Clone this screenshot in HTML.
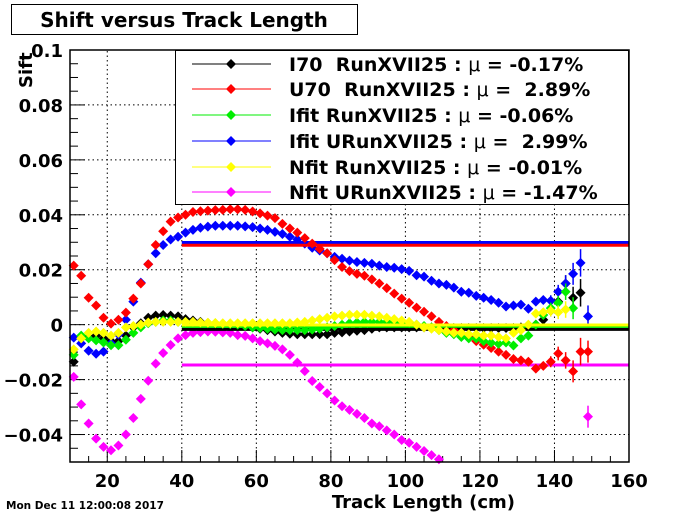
<!DOCTYPE html>
<html><head><meta charset="utf-8"><style>
body{margin:0;background:#fff;}
svg{display:block;font-family:"DejaVu Sans","Liberation Sans",sans-serif;}
</style></head><body>
<svg id="chart" width="700" height="514" viewBox="0 0 700 514" xmlns="http://www.w3.org/2000/svg">
<rect width="700" height="514" fill="#fff"/>
<g>
<rect x="11.5" y="4.5" width="346" height="30" fill="#fff" stroke="#000"/>
<text x="184" y="27" text-anchor="middle" font-weight="bold" font-size="20">Shift versus Track Length</text>
</g>
<g id="grid"></g>
<g id="axes"></g>
<g id="series"></g>
<rect x="70" y="50" width="559" height="412" fill="none" stroke="#000" stroke-width="1.5"/>
<g id="legend">
<rect x="175.5" y="50.5" width="453" height="154" fill="#fff" stroke="#000"/>
</g>
<text transform="translate(32,88) rotate(-90)" font-weight="bold" font-size="18">Sift</text>
<text x="515" y="508" text-anchor="end" font-weight="bold" font-size="18">Track Length (cm)</text>
<text x="6" y="509" font-weight="bold" font-size="10.5">Mon Dec 11 12:00:08 2017</text>
</svg>
<script>
const xs = [];
for (let v = 11; v <= 149; v += 2) xs.push(v);
const seriesNames = ["I70  RunXVII25 : ","U70  RunXVII25 : ","Ifit RunXVII25 : ","Ifit URunXVII25 : ","Nfit RunXVII25 : ","Nfit URunXVII25 : "];
const seriesMeans = ["-0.17%"," 2.89%","-0.06%"," 2.99%","-0.01%","-1.47%"];
const fitLevels = [-0.0017, 0.0289, -0.0006, 0.0299, -0.0001, -0.0147];
const colors = ["#000","#ff0000","#00ee00","#0000ff","#ffff00","#ff00ff"];
const black = [-0.0135,-0.005,-0.0045,-0.004,-0.005,-0.006,-0.006,-0.004,-0.001,0.0005,0.0025,0.0033,0.0035,0.0033,0.003,0.002,0.0015,0.001,0.0006,0.0003,0.0003,0.0003,0.0003,-0.0005,-0.001,-0.0015,-0.002,-0.0025,-0.003,-0.0033,-0.0035,-0.0035,-0.0035,-0.0035,-0.0035,-0.003,-0.0028,-0.0025,-0.0022,-0.002,-0.0015,-0.001,-0.001,-0.001,-0.001,-0.001,-0.001,-0.001,-0.001,-0.001,-0.001,-0.0012,-0.0012,-0.0012,-0.0012,-0.0012,-0.0012,-0.0012,-0.0012,-0.0012,-0.001,-0.0005,0.0,0.0018,0.005,0.0084,0.015,0.0098,0.0116];
const red = [0.0215,0.0178,0.0098,0.007,0.0025,0.0004,0.0018,0.0044,0.0095,0.015,0.022,0.029,0.034,0.0375,0.039,0.040,0.041,0.0413,0.0415,0.0417,0.0418,0.042,0.042,0.0418,0.0412,0.0405,0.0397,0.0388,0.0367,0.035,0.0335,0.0315,0.0295,0.0276,0.026,0.0235,0.021,0.0195,0.0185,0.0178,0.0165,0.015,0.0133,0.0113,0.0095,0.008,0.0062,0.0047,0.003,0.001,-0.0005,-0.002,-0.003,-0.0045,-0.006,-0.0073,-0.0085,-0.0098,-0.011,-0.0125,-0.013,-0.0135,-0.016,-0.015,-0.0135,-0.0105,-0.013,-0.017,-0.0098,-0.0098,-0.0087];
const green = [-0.011,-0.004,-0.005,-0.0057,-0.0065,-0.0075,-0.0075,-0.0055,-0.003,-0.001,0.0005,0.001,0.0015,0.0015,0.001,0.001,0.0008,0.0007,0.0005,0.0005,0.0003,0.0002,0.0,-0.0005,-0.001,-0.0012,-0.0015,-0.0018,-0.002,-0.002,-0.002,-0.002,-0.0018,-0.0015,-0.001,-0.0005,0.0,0.0005,0.0008,0.001,0.001,0.001,0.001,0.001,0.0008,0.0005,0.0,-0.0005,-0.001,-0.002,-0.003,-0.0035,-0.0045,-0.005,-0.005,-0.006,-0.0066,-0.007,-0.0065,-0.0076,-0.005,-0.004,0.0,0.0035,0.006,0.008,0.012,0.006];
const blue = [-0.0047,-0.0068,-0.0095,-0.0106,-0.0098,-0.0068,-0.0036,0.0018,0.0084,0.0153,0.022,0.026,0.029,0.031,0.032,0.0335,0.0345,0.0353,0.0357,0.036,0.036,0.036,0.036,0.0358,0.0355,0.035,0.0345,0.0338,0.033,0.032,0.031,0.0295,0.028,0.027,0.026,0.0247,0.024,0.0233,0.0228,0.0225,0.0222,0.0215,0.021,0.0207,0.0202,0.0196,0.018,0.0175,0.016,0.015,0.0145,0.0135,0.012,0.0116,0.0105,0.0098,0.009,0.008,0.0066,0.007,0.0073,0.0058,0.0084,0.009,0.0087,0.012,0.015,0.0185,0.0225,0.003];
const yellow = [-0.009,-0.005,-0.003,-0.0025,-0.003,-0.004,-0.003,-0.001,-0.0005,0.0,0.0008,0.001,0.001,0.001,0.001,0.001,0.001,0.0008,0.0007,0.0006,0.0005,0.0005,0.0005,0.0005,0.0005,0.0005,0.0005,0.0005,0.0005,0.0005,0.0008,0.001,0.0015,0.002,0.0025,0.003,0.0033,0.0036,0.0036,0.0036,0.0033,0.003,0.0025,0.002,0.0015,0.001,0.0,-0.001,-0.0015,-0.002,-0.0025,-0.003,-0.003,-0.0035,-0.0035,-0.004,-0.004,-0.0045,-0.005,-0.003,-0.002,0.0,0.004,0.0045,0.005,0.0045,0.0055];
const magenta = [-0.019,-0.029,-0.036,-0.0415,-0.0445,-0.0457,-0.044,-0.040,-0.034,-0.027,-0.0204,-0.0142,-0.0103,-0.0074,-0.005,-0.0038,-0.003,-0.0027,-0.0025,-0.0026,-0.0028,-0.003,-0.0038,-0.0041,-0.005,-0.006,-0.0068,-0.0077,-0.009,-0.011,-0.0138,-0.0169,-0.0205,-0.0227,-0.025,-0.0276,-0.0297,-0.031,-0.0325,-0.034,-0.036,-0.037,-0.0385,-0.040,-0.042,-0.043,-0.0445,-0.046,-0.0475,-0.049,null,null,null,null,null,null,null,null,null,null,null,null,null,null,null,null,null,null,null,-0.0335];
const errs = [0.001,0.0008,0.0006,0.0005,0.0005,0.0005,0.0005,0.0005,0.0005,0.0005,0.0005,0.0005,0.0005,0.0005,0.0005,0.0005,0.0005,0.0005,0.0005,0.0005,0.0005,0.0005,0.0005,0.0005,0.0005,0.0005,0.0005,0.0005,0.0005,0.0005,0.0005,0.0005,0.0005,0.0005,0.0005,0.0005,0.0005,0.0005,0.0005,0.0005,0.0005,0.0005,0.0005,0.0005,0.0005,0.0005,0.0005,0.0005,0.0005,0.0005,0.0005,0.0005,0.0005,0.0005,0.0005,0.0005,0.0005,0.0008,0.0008,0.001,0.001,0.001,0.0012,0.0015,0.002,0.0025,0.003,0.004,0.005,0.004];
const xTicks = [20,40,60,80,100,120,140,160];
const yTicks = [-0.04,-0.02,0,0.02,0.04,0.06,0.08,0.1];
const yTickLabels = ["\u22120.04","\u22120.02","0","0.02","0.04","0.06","0.08","0.1"];

const NS="http://www.w3.org/2000/svg";
const X0=70,X1=629,Y0=462,Y1=50,XMIN=10,XMAX=160,YMIN=-0.05,YMAX=0.1;
const sx=v=>X0+(v-XMIN)/(XMAX-XMIN)*(X1-X0);
const sy=v=>Y0-(v-YMIN)/(YMAX-YMIN)*(Y0-Y1);
function mk(tag,attrs,parent){const e=document.createElementNS(NS,tag);for(const k in attrs)e.setAttribute(k,attrs[k]);parent.appendChild(e);return e;}
const grid=document.getElementById('grid'),axes=document.getElementById('axes'),ser=document.getElementById('series'),leg=document.getElementById('legend');
xTicks.forEach(t=>{
  if(t<XMAX){const g=mk('line',{x1:sx(t),x2:sx(t),y1:Y0,y2:Y1,stroke:'#000','stroke-dasharray':'1.5,3','stroke-width':1},grid);
  
  }
  const tl=mk('text',{x:sx(t),y:487,'text-anchor':'middle','font-weight':'bold','font-size':18},axes);
  tl.textContent=t;
  
  
});
for(let t=10;t<=160;t+=5){mk('line',{x1:sx(t),x2:sx(t),y1:Y0,y2:Y0-(t%20===0?12:6),stroke:'#000'},axes);}
yTicks.forEach((t,i)=>{
  if(t<YMAX){const g=mk('line',{x1:X0,x2:X1,y1:sy(t),y2:sy(t),stroke:'#000','stroke-dasharray':'1.5,3','stroke-width':1},grid);
  
  }
  const tl=mk('text',{x:63,y:sy(t)+7,'text-anchor':'end','font-weight':'bold','font-size':18},axes);
  tl.textContent=yTickLabels[i];
  
  
});
for(let k=-10;k<=20;k++){const t=k*0.005;if(t<YMIN-1e-9)continue;mk('line',{x1:X0,x2:X0+(k%4===0?15:8),y1:sy(t),y2:sy(t),stroke:'#000'},axes);}
const data=[black,red,green,blue,yellow,magenta];
const order=[5,0,3,1,2,4];
function diamond(cx,cy,r){return `M${cx},${cy-r}L${cx+r},${cy}L${cx},${cy+r}L${cx-r},${cy}Z`;}
order.forEach(si=>{
  const g=mk('g',{},ser);
  
  
  const fl=mk('line',{x1:sx(40),x2:X1,y1:sy(fitLevels[si]),y2:sy(fitLevels[si]),stroke:colors[si],'stroke-width':3},g);
  
  
  data[si].forEach((v,i)=>{
    if(v===null||v===undefined)return;
    const y=sy(v);if(y>Y0||y<Y1)return;
    const e=errs[i];
    if(e>0.0006){const eb=mk('line',{x1:sx(xs[i]),x2:sx(xs[i]),y1:Math.max(Y1,sy(v+e)),y2:Math.min(Y0,sy(v-e)),stroke:colors[si],'stroke-width':1.5},g);
      
      }
    const p=mk('path',{d:diamond(sx(xs[i]),y,5),fill:colors[si]},g);
    
    
  });
});
// legend
const rows=[64,89,115,141,167,192];
for(let i=0;i<6;i++){
  const g=mk('g',{},leg);
  
  
  mk('line',{x1:192,x2:271,y1:rows[i],y2:rows[i],stroke:colors[i],'stroke-width':1},g);
  mk('path',{d:diamond(231,rows[i],5),fill:colors[i]},g);
  const t=mk('text',{x:289,y:rows[i]+7,'font-size':19,'font-weight':'bold','xml:space':'preserve'},g);
  t.setAttribute('style','white-space:pre');
  t.textContent=seriesNames[i];
  const mu=mk('tspan',{'font-weight':'normal'},t);mu.textContent='\u03bc';
  const rest=mk('tspan',{},t);rest.textContent=' = '+seriesMeans[i];
}
</script>
</body></html>
